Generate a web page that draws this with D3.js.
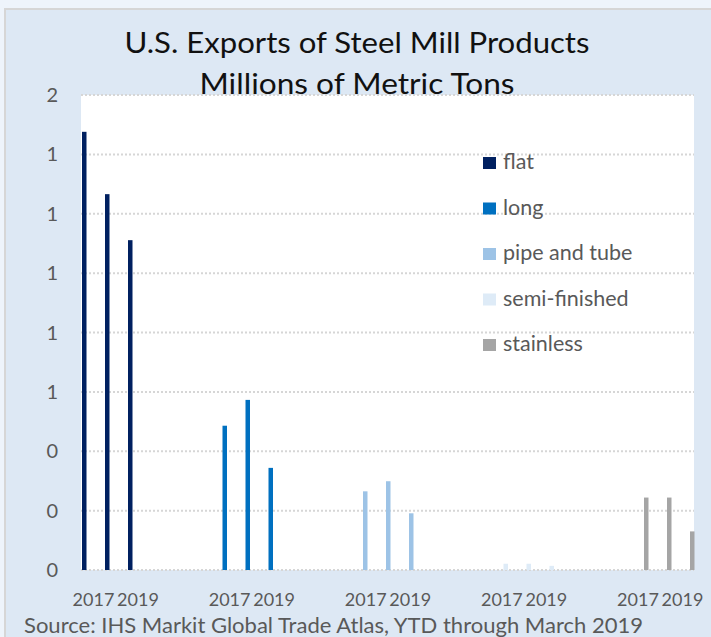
<!DOCTYPE html>
<html lang="en">
<head>
    <meta charset="UTF-8">
    <title>U.S. Exports of Steel Mill Products</title>
    <script src="https://d3js.org/d3.v7.min.js"></script>
    <style>
        body {margin: 0; background: #eef4fb;}
        text {font-family: Lato, "Open Sans", sans-serif;}
    </style>
</head>
<body>
<script>
    const width = 711;
    const height = 637;

    // data, millions of metric tons
    const products = ["flat", "long", "pipe and tube", "semi-finished", "stainless"];
    const years = ["2017", "2018", "2019"];
    const flat = [1.476, 1.266, 1.111];
    const long = [0.486, 0.573, 0.344];
    const pipe = [0.265, 0.299, 0.191];
    const semi = [0.021, 0.021, 0.014];
    const stainless = [0.244, 0.244, 0.130];
    const yTicks = [0, 0.2, 0.4, 0.6, 0.8, 1.0, 1.2, 1.4, 1.6];
    const yearLabels = ["2017", "2019"];
    const colors = ["#002060", "#0070c0", "#9dc3e6", "#deebf7", "#a5a5a5"];

    const series = [flat, long, pipe, semi, stainless];

    const plot = {left: 81, right: 694, top: 95, bottom: 570};

    const svg = d3.select("body").append("svg")
            .attr("width", width).attr("height", height)
            .style("display", "block");

    // frame
    svg.append("rect").attr("x", 0).attr("y", 0).attr("width", width).attr("height", height)
            .style("fill", "#eef4fb");
    svg.append("rect").attr("x", 4).attr("y", 8).attr("width", width - 4).attr("height", height - 8)
            .style("fill", "#d6d6d6");
    svg.append("rect").attr("x", 6).attr("y", 10).attr("width", width - 6).attr("height", height - 10)
            .style("fill", "#dde8f4");

    svg.append("rect")
            .attr("x", plot.left).attr("y", plot.top)
            .attr("width", plot.right - plot.left).attr("height", plot.bottom - plot.top)
            .style("fill", "white");

    const y = d3.scaleLinear().domain([0, 1.6]).range([plot.bottom, plot.top]);

    // product groups and years within a group
    const xGroup = d3.scalePoint().domain(products).range([82, 644]);
    const xYear = d3.scalePoint().domain(years).range([0, 46]);
    // the category labels sit on a slightly narrower stride
    const xLabel = d3.scalePoint().domain(products).range([93.5, 638]);
    const xLabelYear = d3.scalePoint().domain(yearLabels).range([0, 44.5]);

    // gridlines
    svg.append("g").selectAll("line")
            .data(yTicks)
            .join("line")
            .attr("x1", plot.left).attr("x2", plot.right)
            .attr("y1", d => y(d)).attr("y2", d => y(d))
            .style("stroke", "#d6d6d6")
            .style("stroke-width", 2)
            .style("stroke-dasharray", "2,2");

    const fmt = d3.format(".0f");
    svg.append("g").selectAll("text")
            .data(yTicks)
            .join("text")
            .attr("x", 58)
            .attr("y", d => y(d) + 7)
            .attr("text-anchor", "end")
            .style("font-size", "20px")
            .style("fill", "#595959")
            .text(d => fmt(d));

    // bars
    const barW = 4.5;
    products.forEach((p, i) => {
        svg.append("g").selectAll("rect")
                .data(series[i])
                .join("rect")
                .attr("x", (d, j) => xGroup(p) + xYear(years[j]))
                .attr("width", barW)
                .attr("y", d => y(d))
                .attr("height", d => y(0) - y(d))
                .style("fill", colors[i]);
    });

    // year labels
    products.forEach(p => {
        svg.append("g").selectAll("text")
                .data(yearLabels)
                .join("text")
                .attr("x", d => xLabel(p) + xLabelYear(d))
                .attr("y", 606)
                .attr("text-anchor", "middle")
                .style("font-size", "18px")
                .style("fill", "#595959")
                .text(d => d);
    });

    // legend
    const legend = svg.append("g").selectAll("g")
            .data(products)
            .join("g")
            .attr("transform", (d, i) => `translate(483,${157 + i * 45.5})`);
    legend.append("rect")
            .attr("width", 13).attr("height", 12)
            .style("fill", (d, i) => colors[i]);
    legend.append("text")
            .attr("x", 20).attr("y", 12)
            .style("font-size", "21.5px")
            .style("fill", "#595959")
            .text(d => d);

    // title
    svg.append("text")
            .attr("x", 357).attr("y", 53)
            .attr("text-anchor", "middle")
            .attr("textLength", 465).attr("lengthAdjust", "spacingAndGlyphs")
            .style("font-size", "29px")
            .style("fill", "#111")
            .text("U.S. Exports of Steel Mill Products");
    svg.append("text")
            .attr("x", 357).attr("y", 94)
            .attr("text-anchor", "middle")
            .attr("textLength", 315).attr("lengthAdjust", "spacingAndGlyphs")
            .style("font-size", "29px")
            .style("fill", "#111")
            .text("Millions of Metric Tons");

    // source
    svg.append("text")
            .attr("x", 24).attr("y", 633)
            .attr("textLength", 619).attr("lengthAdjust", "spacingAndGlyphs")
            .style("font-size", "21px")
            .style("fill", "#595959")
            .text("Source: IHS Markit Global Trade Atlas, YTD through March 2019");
</script>
</body>
</html>
